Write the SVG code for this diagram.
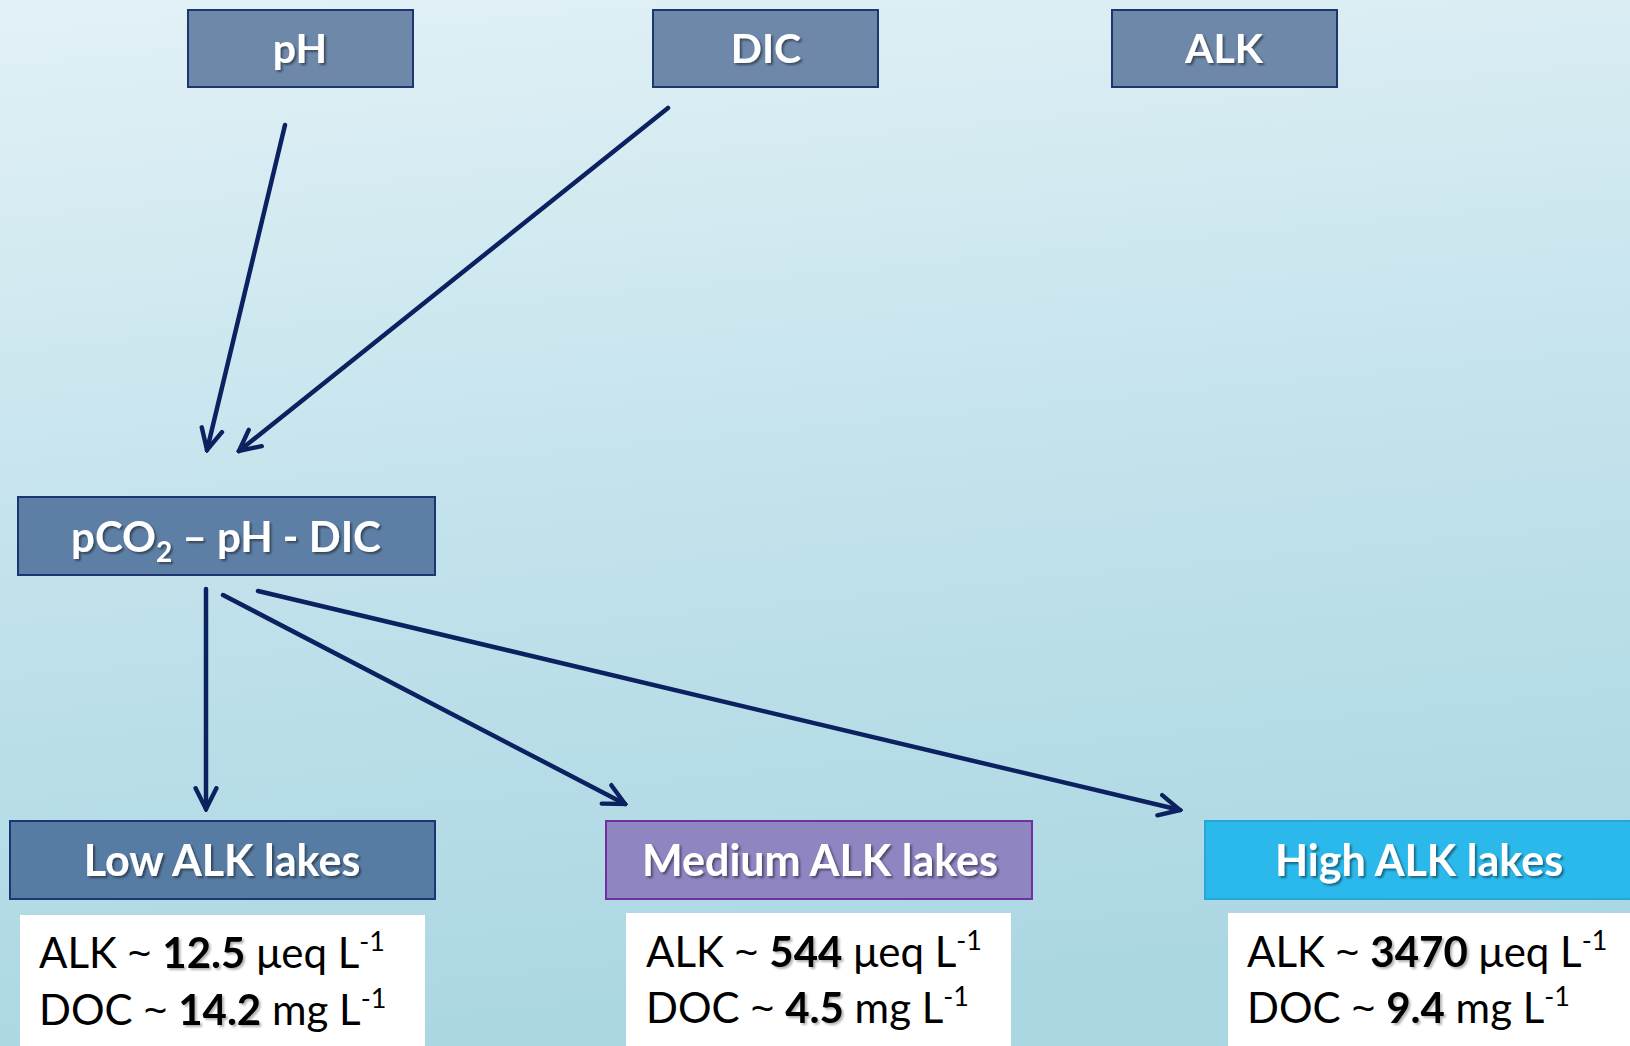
<svg xmlns="http://www.w3.org/2000/svg" width="1630" height="1046" viewBox="0 0 1630 1046">
<defs>
<linearGradient id="bg" x1="0" y1="0" x2="0.15" y2="1">
<stop offset="0" stop-color="#e2f1f6"/>
<stop offset="0.5" stop-color="#c4e3ec"/>
<stop offset="1" stop-color="#abd7e3"/>
</linearGradient>
<filter id="sh" x="-10%" y="-20%" width="130%" height="150%">
<feDropShadow dx="2" dy="2" stdDeviation="1.2" flood-color="#000" flood-opacity="0.45"/>
</filter>
<filter id="shg" x="-10%" y="-20%" width="130%" height="150%">
<feDropShadow dx="2" dy="2" stdDeviation="1.2" flood-color="#000" flood-opacity="0.3"/>
</filter>
<marker id="ah" viewBox="0 0 20 20" refX="18" refY="10" markerWidth="26" markerHeight="26" markerUnits="userSpaceOnUse" orient="auto">
<path d="M2,2 L18,10 L2,18" fill="none" stroke="#0b2160" stroke-width="3.4" stroke-linecap="round" stroke-linejoin="miter"/>
</marker>
<style>
.hdr{fill:#6e88aa;stroke:#1b3670;stroke-width:2}
.title{font-family:Lato,"Open Sans","Liberation Sans",sans-serif;font-weight:bold;fill:#fff;text-anchor:middle;filter:url(#sh)}
.body{font-family:Lato,"Open Sans","Liberation Sans",sans-serif;font-size:42px;fill:#000}
.b{font-weight:bold;filter:url(#shg)}
.t{font-family:"Open Sans",Lato,sans-serif}
.conn{stroke:#0b2160;stroke-width:4.5;fill:none;marker-end:url(#ah);stroke-linecap:round}
</style>
</defs>
<rect width="1630" height="1046" fill="url(#bg)"/>
<g id="node-ph">
<rect class="hdr" x="188" y="10" width="225" height="77"/>
<text class="title" x="300" y="63" font-size="41">pH</text>
</g>
<g id="node-dic">
<rect class="hdr" x="653" y="10" width="225" height="77"/>
<text class="title" x="766" y="63" font-size="41">DIC</text>
</g>
<g id="node-alk">
<rect class="hdr" x="1112" y="10" width="225" height="77"/>
<text class="title" x="1224" y="63" font-size="41">ALK</text>
</g>
<g id="node-pco2">
<rect x="18" y="497" width="417" height="78" fill="#5e7fa5" stroke="#1b3670" stroke-width="2"/>
<text class="title" x="226" y="552" font-size="42">pCO<tspan font-size="28" dy="10">2</tspan><tspan dy="-10"> – pH - DIC</tspan></text>
</g>
<g id="node-low">
<rect x="10" y="821" width="425" height="78" fill="#577ca3" stroke="#1b3670" stroke-width="2"/>
<text class="title" x="222" y="876" font-size="43">Low ALK lakes</text>
<rect x="20" y="915" width="405" height="140" fill="#fff"/>
<text class="body" x="39" y="968">ALK <tspan class="t">~</tspan> <tspan class="b">12.5</tspan> μeq L<tspan font-size="27" dy="-17">-1</tspan></text>
<text class="body" x="39" y="1025">DOC <tspan class="t">~</tspan> <tspan class="b">14.2</tspan> mg L<tspan font-size="27" dy="-17">-1</tspan></text>
</g>
<g id="node-medium">
<rect x="606" y="821" width="426" height="78" fill="#8e85c1" stroke="#7030a0" stroke-width="2"/>
<text class="title" x="820" y="876" font-size="43">Medium ALK lakes</text>
<rect x="626" y="913" width="385" height="140" fill="#fff"/>
<text class="body" x="646" y="967">ALK <tspan class="t">~</tspan> <tspan class="b">544</tspan> μeq L<tspan font-size="27" dy="-17">-1</tspan></text>
<text class="body" x="646" y="1023">DOC <tspan class="t">~</tspan> <tspan class="b">4.5</tspan> mg L<tspan font-size="27" dy="-17">-1</tspan></text>
</g>
<g id="node-high">
<rect x="1205" y="821" width="430" height="78" fill="#2bb9ec" stroke="#25a8d8" stroke-width="2"/>
<text class="title" x="1419" y="876" font-size="43">High ALK lakes</text>
<rect x="1228" y="913" width="410" height="140" fill="#fff"/>
<text class="body" x="1247" y="967">ALK <tspan class="t">~</tspan> <tspan class="b">3470</tspan> μeq L<tspan font-size="27" dy="-17">-1</tspan></text>
<text class="body" x="1247" y="1023">DOC <tspan class="t">~</tspan> <tspan class="b">9.4</tspan> mg L<tspan font-size="27" dy="-17">-1</tspan></text>
</g>
<g id="connectors">
<line class="conn" x1="285" y1="125" x2="207" y2="450"/>
<line class="conn" x1="668" y1="108" x2="239" y2="451"/>
<line class="conn" x1="206" y1="589" x2="206" y2="809"/>
<line class="conn" x1="223" y1="595" x2="625" y2="804"/>
<line class="conn" x1="258" y1="591" x2="1180" y2="810"/>
</g>
</svg>
